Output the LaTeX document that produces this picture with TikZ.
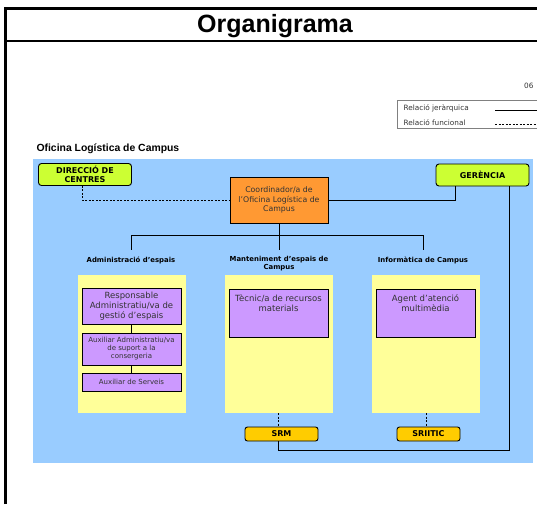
\documentclass[tikz,border=0pt]{standalone}
\usepackage{fontspec}
\setmainfont{DejaVu Sans}
\newfontfamily\arialfont{Liberation Sans}
\usetikzlibrary{positioning}

\definecolor{fons}{HTML}{99CCFF}
\definecolor{grocpal}{HTML}{FFFF99}
\definecolor{lila}{HTML}{CC99FF}
\definecolor{taronja}{HTML}{FF9933}
\definecolor{llima}{HTML}{CCFF33}
\definecolor{ocre}{HTML}{FFCC00}
\definecolor{textfosc}{HTML}{333333}

\tikzset{
  caixa/.style={draw, line width=0.9pt, align=center, inner sep=1pt, text=textfosc},
  lloc/.style={caixa, fill=lila, minimum width=99pt, font=\fontsize{8.5}{10}\selectfont},
  extern/.style={caixa, rounded corners=3pt, fill=llima, minimum width=93pt, minimum height=22pt, text=black, font=\fontsize{8}{8.5}\selectfont\bfseries},
  servei/.style={caixa, rounded corners=2.5pt, fill=ocre, minimum height=14pt, text=black, font=\fontsize{8}{8.5}\selectfont\bfseries},
  area/.style={align=center, font=\fontsize{6.9}{7.5}\selectfont\bfseries},
  panell/.style={fill=grocpal, minimum width=108pt, minimum height=138pt, inner sep=0pt},
  llegenda/.style={anchor=west, font=\fontsize{7.3}{8}\selectfont, text=textfosc},
  jer/.style={line width=0.8pt},
  fun/.style={line width=0.8pt, dash pattern=on 2pt off 1.5pt}
}

\begin{document}
\begin{tikzpicture}[x=1pt, y=-1pt]
  \useasboundingbox (0,0) rectangle (537,504);

  \draw[line width=3pt] (5,504) -- (5,8) -- (540,8);
  \draw[line width=2.5pt] (5,41) -- (540,41);
  \node (titol) at (275,26) {\arialfont\fontsize{25}{27}\selectfont\bfseries Organigrama};

  \node[llegenda, anchor=east] (data) at (537,86) {06};
  \draw[gray, line width=0.6pt] (397,100) rectangle (545,128);
  \node[llegenda] (ljer) at (400,108.5) {Relació jeràrquica};
  \node[llegenda] (lfun) at (400,122.5) {Relació funcional};
  \draw[jer, line width=0.6pt] (495,110) -- (540,110);
  \draw[fun, line width=0.6pt] (495,124) -- (540,124);

  \node[anchor=west] (oficina) at (33,149) {\arialfont\fontsize{10.4}{11}\selectfont\bfseries Oficina Logística de Campus};
  \fill[fons] (33,159) rectangle (533,463);

  \node[extern] (direccio) at (85,174.5) {DIRECCIÓ DE\\CENTRES};
  \node[extern] (gerencia) at (482.5,175) {GERÈNCIA};
  \node[caixa, fill=taronja, minimum width=98pt, minimum height=46pt, font=\fontsize{7.8}{9.5}\selectfont] (coord) at (279,200) {Coordinador/a de\\l'Oficina Logística de\\Campus};

  \node[area] (adm) at (131,260) {Administració d'espais};
  \node[area] (mant) at (279,263.5) {Manteniment d'espais de\\Campus};
  \node[area] (inf) at (423,260) {Informàtica de Campus};

  \node[panell] (p1) at (132,344) {};
  \node[panell] (p2) at (278.5,344) {};
  \node[panell] (p3) at (426,344) {};

  \node[lloc, minimum height=36pt] (resp) at (131.5,306) {Responsable\\Administratiu/va de\\gestió d'espais};
  \node[lloc, minimum height=32pt, font=\fontsize{7}{8}\selectfont] (auxadm) at (131.5,349) {Auxiliar Administratiu/va\\de suport a la\\consergeria};
  \node[lloc, minimum height=18pt, font=\fontsize{7}{8}\selectfont] (auxserv) at (131.5,382) {Auxiliar de Serveis};
  \node[lloc, minimum height=48pt] (tecnic) at (278.5,313) {};
  \node[below=3pt of tecnic.north, align=center, text=textfosc, font=\fontsize{8.5}{10}\selectfont] (ttecnic) {Tècnic/a de recursos\\materials};
  \node[lloc, minimum height=48pt] (agent) at (425.5,313) {};
  \node[below=3pt of agent.north, align=center, text=textfosc, font=\fontsize{8.5}{10}\selectfont] (tagent) {Agent d'atenció\\multimèdia};

  \node[servei, minimum width=73pt] (srm) at (281.5,434) {SRM};
  \node[servei, minimum width=63pt] (sriitic) at (428.5,434) {SRIITIC};

  \coordinate (barra) at (279,235);
  \coordinate (base) at (509,450);

  \draw[fun] (direccio.south -| 82,0) |- (coord.west);
  \draw[jer] (coord.east) -| ([xshift=-27.5pt]gerencia.south);
  \draw[jer] (coord.south) -- (barra);
  \draw[jer] ([yshift=3pt]adm.north) |- (barra);
  \draw[jer] ([yshift=3pt]inf.north) |- (barra);
  \draw[jer] ([yshift=3pt]mant.north) -- (barra);
  \draw[jer] (resp) -- (auxadm);
  \draw[jer] (auxadm) -- (auxserv);
  \draw[fun] (p2.south) -- (p2.south |- srm.north);
  \draw[fun] (p3.south) -- (p3.south |- sriitic.north);
  \draw[jer] (srm.south -| p2.south) |- (base) -- (base |- gerencia.south);
  \draw[jer] (sriitic.south -| p3.south) -- (sriitic.south -| p3.south |- base);
\end{tikzpicture}
\end{document}
